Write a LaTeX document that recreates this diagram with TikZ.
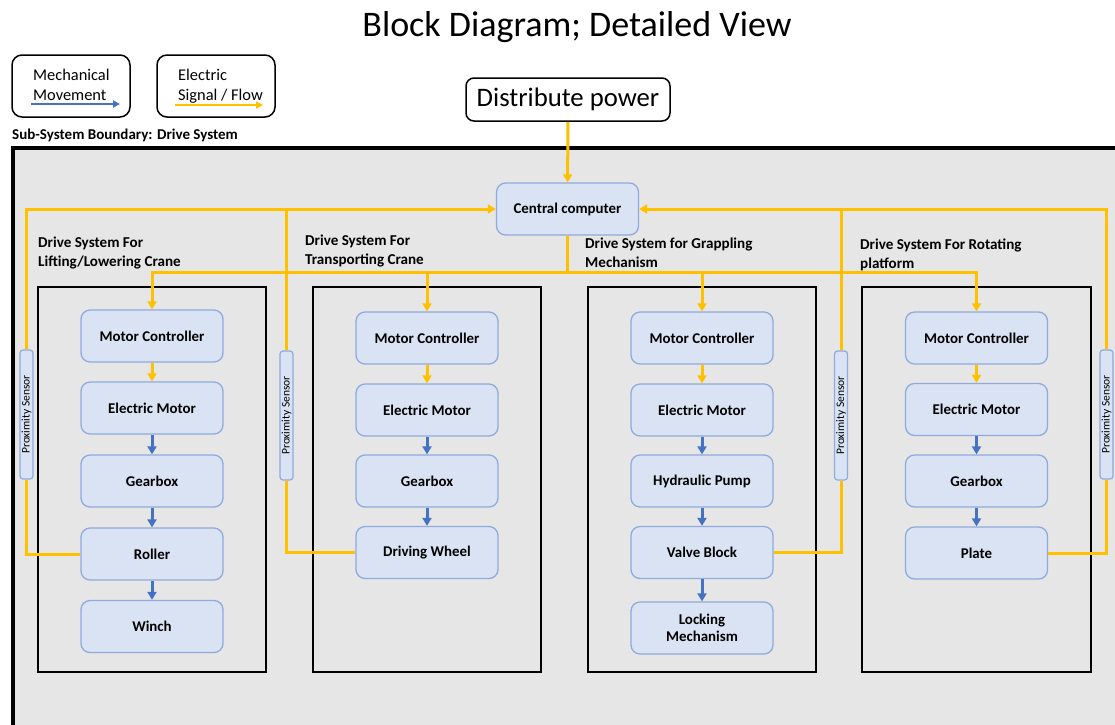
\documentclass[tikz,border=0pt]{standalone}
\usepackage{fontspec}
\setmainfont{Carlito}
\usetikzlibrary{arrows.meta}
\definecolor{sigyellow}{RGB}{255,192,0}
\definecolor{mechblue}{RGB}{68,114,196}
\definecolor{boxfill}{RGB}{218,227,243}
\definecolor{boxline}{RGB}{143,170,220}
\definecolor{sysgray}{RGB}{231,230,230}

\begin{document}
\begin{tikzpicture}[x=1pt, y=-1pt,
    >={Triangle[length=8pt, width=9pt]},
    part/.style={draw=boxline, line width=1.3pt, fill=boxfill, rounded corners=9pt,
        minimum width=142pt, minimum height=52pt, align=center,
        font=\fontsize{14.9}{17.5}\selectfont\bfseries},
    sensor/.style={draw=boxline, line width=1.2pt, fill=boxfill, rounded corners=3pt,
        rotate=90, minimum width=129pt, minimum height=13pt, inner sep=0pt,
        font=\fontsize{11.5}{12}\selectfont},
    grouplabel/.style={anchor=north west, align=left, inner sep=0pt,
        font=\fontsize{15.1}{19}\selectfont\bfseries},
    legendbox/.style={draw=black, line width=1.5pt, rounded corners=10pt,
        minimum width=118pt, minimum height=62pt},
    legendtext/.style={anchor=north west, align=left, inner sep=0pt,
        font=\fontsize{16.4}{19.5}\selectfont},
    frame/.style={draw=black, line width=1.6pt},
    sig/.style={draw=sigyellow, line width=3pt},
    mech/.style={draw=mechblue, line width=3pt},
]
\clip (0,0) rectangle (1115,724);
\fill[white] (0,0) rectangle (1115,724);

% title, legend and power input
\node[font=\fontsize{36}{40}\selectfont] (title) at (577,27) {Block Diagram; Detailed View};
\node[legendbox] (legMech) at (71,86) {};
\node[legendbox] (legSig) at (216,86) {};
\node[legendtext] (legMechText) at (33,69) {Mechanical\\Movement};
\node[legendtext] (legSigText) at (178,69) {Electric\\Signal / Flow};
\coordinate (mechFrom) at (31,104);
\coordinate (mechTo) at (120,104);
\coordinate (sigFrom) at (175,105);
\coordinate (sigTo) at (263,105);
\draw[mech, line width=2pt, -{Triangle[length=7pt, width=7pt]}] (mechFrom) -- (mechTo);
\draw[sig, line width=2pt, -{Triangle[length=7pt, width=7pt]}] (sigFrom) -- (sigTo);
\node[draw=black, line width=1.5pt, rounded corners=8pt, fill=white, minimum width=204pt,
    minimum height=43pt, font=\fontsize{26.7}{30}\selectfont] (power) at (568,99.5) {Distribute power};
\node[anchor=west, inner sep=0pt, font=\fontsize{15}{18}\selectfont\bfseries] (boundary) at (12,135)
    {Sub-System Boundary: Drive System};

% drive system boundary
\draw[line width=4pt, fill=sysgray] (13,148) rectangle (1140,740);

\draw[frame] (38,287) rectangle (266,672);
\draw[frame] (313,287) rectangle (541,672);
\draw[frame] (588,287) rectangle (816,672);
\draw[frame] (862,287) rectangle (1091,672);

\node[grouplabel] (groupA) at (38,237) {Drive System For\\Lifting/Lowering Crane};
\node[grouplabel] (groupB) at (305,235) {Drive System For\\Transporting Crane};
\node[grouplabel] (groupC) at (585,238) {Drive System for Grappling\\Mechanism};
\node[grouplabel] (groupD) at (860,239) {Drive System For Rotating\\platform};

\node[part] (cpu) at (567.5,209) {Central computer};

% lifting / lowering
\node[part] (ctrlA) at (152,336) {Motor Controller};
\node[part] (motorA) at (152,408) {Electric Motor};
\node[part] (gearA) at (152,481) {Gearbox};
\node[part] (rollerA) at (152,554) {Roller};
\node[part] (winchA) at (152,626.5) {Winch};

% transporting
\node[part] (ctrlB) at (427,338) {Motor Controller};
\node[part] (motorB) at (427,410) {Electric Motor};
\node[part] (gearB) at (427,481) {Gearbox};
\node[part] (wheelB) at (427,552.5) {Driving Wheel};

% grappling
\node[part] (ctrlC) at (702,338) {Motor Controller};
\node[part] (motorC) at (702,410) {Electric Motor};
\node[part] (pumpC) at (702,481) {Hydraulic Pump};
\node[part] (valveC) at (702,552.5) {Valve Block};
\node[part] (lockC) at (702,628) {Locking\\Mechanism};

% rotating platform
\node[part] (ctrlD) at (976.5,338) {Motor Controller};
\node[part] (motorD) at (976.5,409.5) {Electric Motor};
\node[part] (gearD) at (976.5,481) {Gearbox};
\node[part] (plateD) at (976.5,553) {Plate};

\node[sensor] (senseA) at (26.5,414.5) {Proximity Sensor};
\node[sensor] (senseB) at (286.5,415.5) {Proximity Sensor};
\node[sensor] (senseC) at (841,415.5) {Proximity Sensor};
\node[sensor] (senseD) at (1106.5,414.5) {Proximity Sensor};

% signal wiring
\draw[sig,->] (power) -- (cpu);
\coordinate (bus) at (567.5,272);
\draw[sig,->] (cpu.south) -- (bus) -| (ctrlA);
\draw[sig,->] (bus) -| (ctrlD);
\draw[sig,->] (ctrlB |- bus) -- (ctrlB);
\draw[sig,->] (ctrlC |- bus) -- (ctrlC);
\draw[sig,->] (senseA.east) |- (cpu.west);
\draw[sig] (senseB.east) -- (senseB.east |- cpu.west);
\draw[sig,->] (senseD.east) |- (cpu.east);
\draw[sig] (senseC.east) -- (senseC.east |- cpu.east);
\draw[sig] (senseA.west) |- (rollerA.west);
\draw[sig] (senseB.west) |- (wheelB.west);
\draw[sig] (valveC.east) -| (senseC.west);
\draw[sig] (plateD.east) -| (senseD.west);

\draw[sig,->] (ctrlA) -- (motorA);
\draw[sig,->] (ctrlB) -- (motorB);
\draw[sig,->] (ctrlC) -- (motorC);
\draw[sig,->] (ctrlD) -- (motorD);

% mechanical flow
\draw[mech,->] (motorA) -- (gearA);
\draw[mech,->] (gearA) -- (rollerA);
\draw[mech,->] (rollerA) -- (winchA);
\draw[mech,->] (motorB) -- (gearB);
\draw[mech,->] (gearB) -- (wheelB);
\draw[mech,->] (motorC) -- (pumpC);
\draw[mech,->] (pumpC) -- (valveC);
\draw[mech,->] (valveC) -- (lockC);
\draw[mech,->] (motorD) -- (gearD);
\draw[mech,->] (gearD) -- (plateD);
\end{tikzpicture}
\end{document}
